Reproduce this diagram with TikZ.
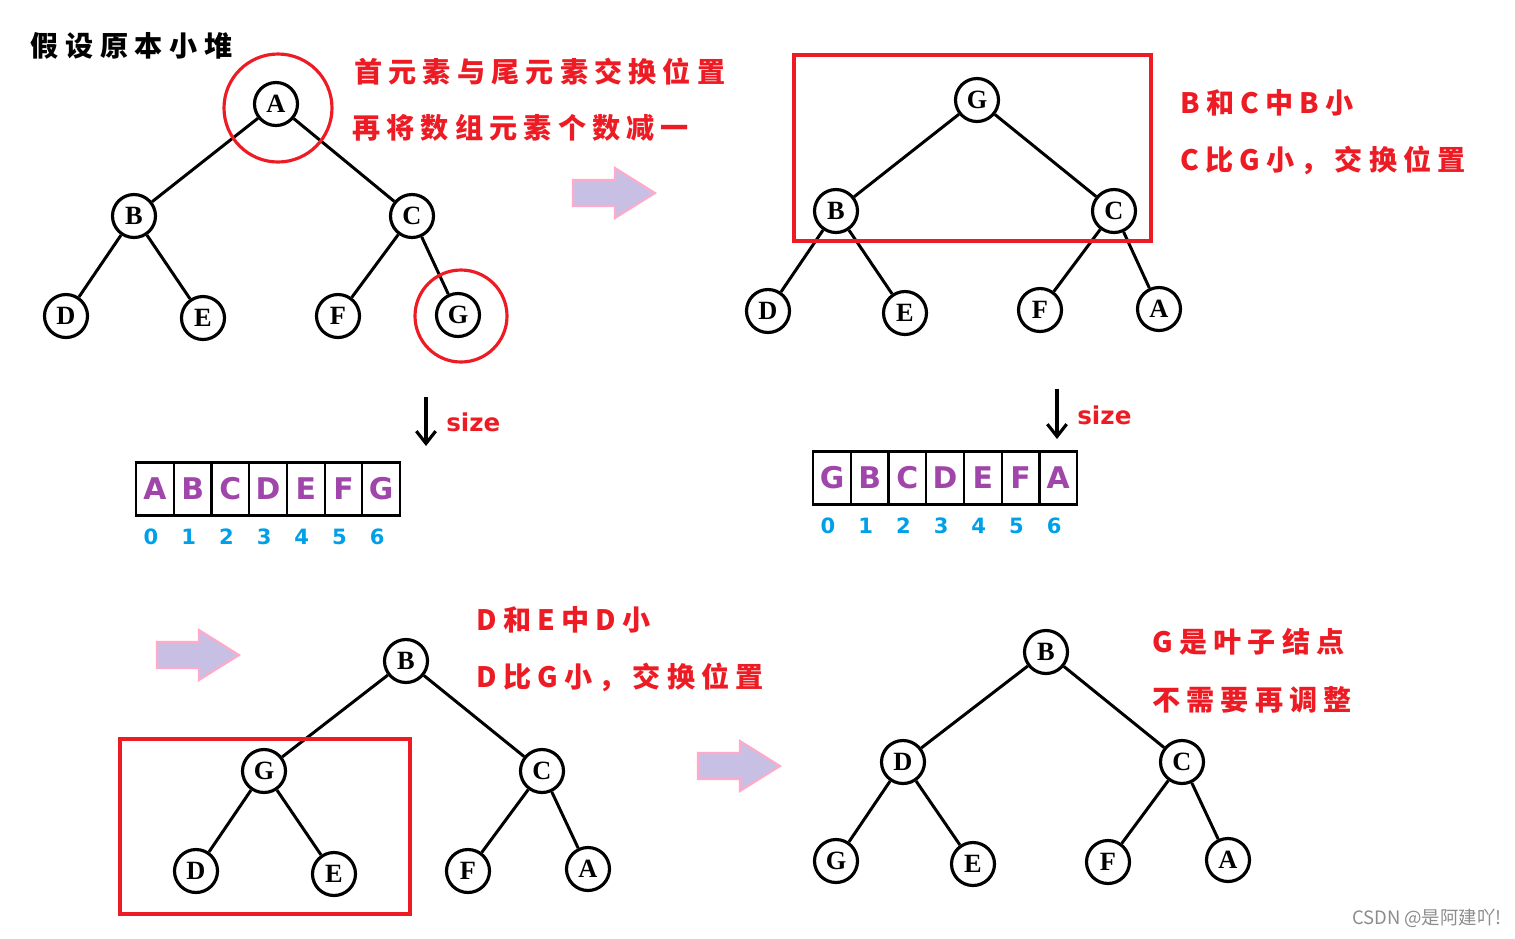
\documentclass[tikz,border=0pt]{standalone}
\usepackage{fontspec}
\setmainfont{Liberation Serif}
\newfontfamily\cjk{Noto Sans CJK SC}
\newfontfamily\arrfont{DejaVu Sans}
\usetikzlibrary{arrows.meta}
\definecolor{tred}{RGB}{237,28,36}
\definecolor{tpurple}{RGB}{160,70,170}
\definecolor{tblue}{RGB}{0,160,232}
\definecolor{afill}{RGB}{200,192,228}
\definecolor{aline}{RGB}{255,170,200}
\tikzset{
  tn/.style={circle,draw=black,line width=1.8pt,fill=white,minimum size=0.86cm,inner sep=0pt,font=\fontsize{15}{15}\selectfont\bfseries},
  edge/.style={line width=1.7pt},
  hl/.style={draw=tred,line width=1.8pt},
  cell/.style={draw=black,line width=1.3pt,minimum width=0.754cm,minimum height=1.06cm,inner sep=0pt,text=tpurple,font=\arrfont\fontsize{17}{17}\selectfont\bfseries},
  idx/.style={text=tblue,inner sep=0pt,font=\arrfont\fontsize{12}{12}\selectfont\bfseries},
  rtxt/.style={anchor=west,inner sep=0pt,text=tred,font=\cjk\fontsize{16}{16}\selectfont\bfseries\addfontfeature{LetterSpace=22}},
  sizelbl/.style={anchor=west,inner sep=0pt,text=tred,font=\arrfont\fontsize{14}{14}\selectfont\bfseries},
  sizearr/.style={line width=1.8pt,-{Straight Barb[length=7pt,width=11pt]}},
  barrow/.style={fill=afill,draw=aline,line width=1.2pt}
}
\newcommand{\myarray}[4]{%
  \foreach \l [count=\i from 0] in {#4} {
    \node[cell] (#1\i) at ({#2+\i*37.7},#3) {\l};
    \node[idx] (#1i\i) at ({#2+\i*37.7-4},#3+48) {\i};
  }
}
\newcommand{\blockarrow}[2]{%
  \draw[barrow] (#1,#2) ++(0,-13) -- ++(42,0) -- ++(0,-12) -- ++(40,25) -- ++(-40,25) -- ++(0,-12) -- ++(-42,0) -- cycle;
}
\begin{document}
\begin{tikzpicture}[x=0.02cm,y=-0.02cm]
\useasboundingbox (0,0) rectangle (1515,938);
% title
\node[anchor=west,inner sep=0pt,font=\cjk\fontsize{16}{16}\selectfont\bfseries\addfontfeature{LetterSpace=24}] (title) at (30,46) {假设原本小堆};
% ---------- tree 1
\node[tn] (a1) at (276,104) {A};
\node[tn] (b1) at (134,216) {B};
\node[tn] (c1) at (412,216) {C};
\node[tn] (d1) at (66,316) {D};
\node[tn] (e1) at (203,318) {E};
\node[tn] (f1) at (338,316) {F};
\node[tn] (g1) at (458,315) {G};
\draw[edge] (a1)--(b1) (a1)--(c1) (b1)--(d1) (b1)--(e1) (c1)--(f1) (c1)--(g1);
\draw[hl] (278,108) circle (54);
\draw[hl] (461,316) circle (46);
\node[rtxt] (t1a) at (354,72) {首元素与尾元素交换位置};
\node[rtxt] (t1b) at (352,128) {再将数组元素个数减一};
\blockarrow{573}{193}
% ---------- tree 2
\node[tn] (g2) at (977,100) {G};
\node[tn] (b2) at (836,211) {B};
\node[tn] (c2) at (1114,211) {C};
\node[tn] (d2) at (768,311) {D};
\node[tn] (e2) at (905,313) {E};
\node[tn] (f2) at (1040,310) {F};
\node[tn] (a2) at (1159,309) {A};
\draw[edge] (g2)--(b2) (g2)--(c2) (b2)--(d2) (b2)--(e2) (c2)--(f2) (c2)--(a2);
\draw[hl] (794,55) rectangle (1151,241);
\node[rtxt] (t2a) at (1180,103) {B和C中B小};
\node[rtxt] (t2b) at (1180,160) {C比G小，交换位置};
% ---------- arrays
\myarray{p}{155}{489}{A,B,C,D,E,F,G}
\coordinate (s1a) at (426,397);
\coordinate (s1b) at (426,446);
\draw[sizearr] (s1a) -- (s1b);
\node[sizelbl] (sz1) at (446,422) {size};
\myarray{q}{832}{478}{G,B,C,D,E,F,A}
\coordinate (s2a) at (1057,389);
\coordinate (s2b) at (1057,439);
\draw[sizearr] (s2a) -- (s2b);
\node[sizelbl] (sz2) at (1077,415) {size};
% ---------- tree 3
\blockarrow{157}{655}
\node[tn] (b3) at (406,661) {B};
\node[tn] (g3) at (264,771) {G};
\node[tn] (c3) at (542,771) {C};
\node[tn] (d3) at (196,871) {D};
\node[tn] (e3) at (334,874) {E};
\node[tn] (f3) at (468,871) {F};
\node[tn] (a3) at (588,869) {A};
\draw[edge] (b3)--(g3) (b3)--(c3) (g3)--(d3) (g3)--(e3) (c3)--(f3) (c3)--(a3);
\draw[hl] (120,739) rectangle (410,914);
\node[rtxt] (t3a) at (476,620) {D和E中D小};
\node[rtxt] (t3b) at (476,677) {D比G小，交换位置};
% ---------- tree 4
\blockarrow{698}{766}
\node[tn] (b4) at (1046,652) {B};
\node[tn] (d4) at (903,762) {D};
\node[tn] (c4) at (1182,762) {C};
\node[tn] (g4) at (836,861) {G};
\node[tn] (e4) at (973,864) {E};
\node[tn] (f4) at (1108,862) {F};
\node[tn] (a4) at (1228,860) {A};
\draw[edge] (b4)--(d4) (b4)--(c4) (d4)--(g4) (d4)--(e4) (c4)--(f4) (c4)--(a4);
\node[rtxt] (t4a) at (1152,642) {G是叶子结点};
\node[rtxt] (t4b) at (1152,700) {不需要再调整};
% watermark
\node[anchor=east,inner sep=0pt,text=black!45,font=\cjk\fontsize{10.5}{10.5}\selectfont] (wm) at (1502,918) {CSDN @是阿建吖!};
\end{tikzpicture}
\end{document}
